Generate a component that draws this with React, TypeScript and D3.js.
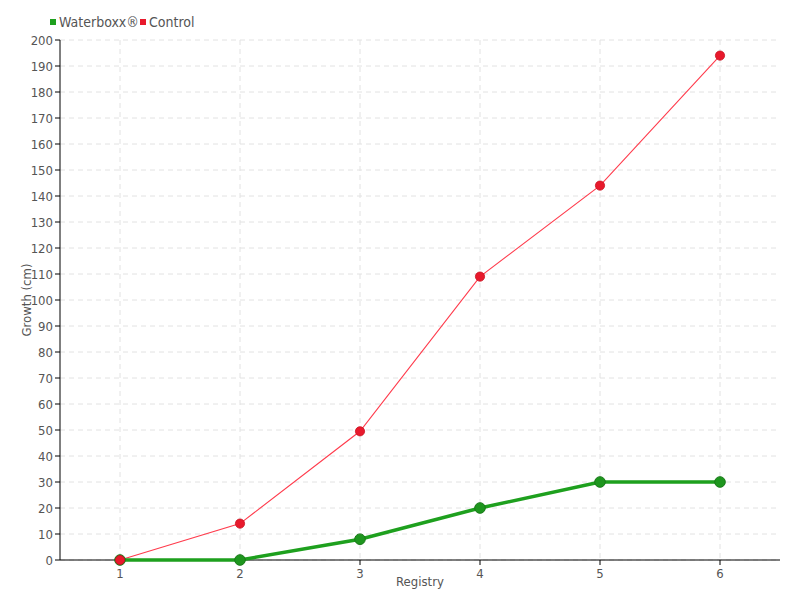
import React from "react";
import * as d3 from "d3";

const categories = ["1", "2", "3", "4", "5", "6"];
const waterboxx = [0, 0, 8, 20, 30, 30];
const control = [0, 14, 49.5, 109, 144, 194];
const yTicks = d3.range(0, 201, 10);

const W = 800, H = 600;
const m = { left: 60, right: 20, top: 40, bottom: 40 };
const FONT = "'DejaVu Sans Condensed', 'DejaVu Sans', sans-serif";
const TXT = "#555";

export default function App() {
  const x = d3.scaleBand().domain(categories).range([m.left, W - m.right]);
  const y = d3.scaleLinear().domain([0, 200]).range([H - m.bottom, m.top]);
  const cx = (c: string) => (x(c) as number) + x.bandwidth() / 2;
  const line = d3.line<number>().x((_, i) => cx(categories[i])).y(d => y(d));
  return (
    <svg width={W} height={H} style={{ position: "absolute", left: 0, top: 0, fontFamily: FONT, fontStretch: "condensed" }}>
      <rect width={W} height={H} fill="#fff" />
      {yTicks.map(t => (
        <line key={"gy" + t} x1={m.left} x2={W - m.right} y1={y(t)} y2={y(t)} stroke="#e2e2e2" strokeDasharray="5,4" />
      ))}
      {categories.map(c => (
        <line key={"gx" + c} x1={cx(c)} x2={cx(c)} y1={m.top} y2={H - m.bottom} stroke="#e2e2e2" strokeDasharray="5,4" />
      ))}
      <line x1={m.left} x2={m.left} y1={m.top} y2={H - m.bottom} stroke="#000" />
      <line x1={m.left} x2={W - m.right} y1={H - m.bottom} y2={H - m.bottom} stroke="#000" />
      {yTicks.map(t => (
        <g key={"ty" + t}>
          <line x1={m.left - 5} x2={m.left} y1={y(t)} y2={y(t)} stroke="#000" />
          <text x={m.left - 7} y={y(t)} dy="0.35em" textAnchor="end" fontSize={13} fill={TXT}>{t}</text>
        </g>
      ))}
      {categories.map(c => (
        <g key={"tx" + c}>
          <line x1={cx(c)} x2={cx(c)} y1={H - m.bottom} y2={H - m.bottom + 5} stroke="#000" />
          <text x={cx(c)} y={H - m.bottom + 18} textAnchor="middle" fontSize={13} fill={TXT}>{c}</text>
        </g>
      ))}
      <text x={(m.left + W - m.right) / 2} y={586} textAnchor="middle" fontSize={13} fill={TXT}>Registry</text>
      <text transform={`translate(31,${(m.top + H - m.bottom) / 2}) rotate(-90)`} textAnchor="middle" fontSize={13} fill={TXT}>Growth (cm)</text>
      <path d={line(control) || ""} fill="none" stroke="#ff3b4c" strokeWidth={1.1} />
      <path d={line(waterboxx) || ""} fill="none" stroke="#1ea01e" strokeWidth={3.5} />
      {waterboxx.map((v, i) => (
        <circle key={"w" + i} cx={cx(categories[i])} cy={y(v)} r={5.3} fill="#1e961e" stroke="#187a18" strokeWidth={1} />
      ))}
      {control.map((v, i) => (
        <circle key={"c" + i} cx={cx(categories[i])} cy={y(v)} r={4.6} fill="#e8192c" stroke="#c8101f" strokeWidth={0.8} />
      ))}
      <rect x={50} y={19} width={6} height={6} fill="#1ea01e" />
      <text x={59} y={27} fontSize={14} fill={TXT}>Waterboxx®</text>
      <rect x={140} y={19} width={6} height={6} fill="#e8192c" />
      <text x={149} y={27} fontSize={14} fill={TXT}>Control</text>
    </svg>
  );
}
